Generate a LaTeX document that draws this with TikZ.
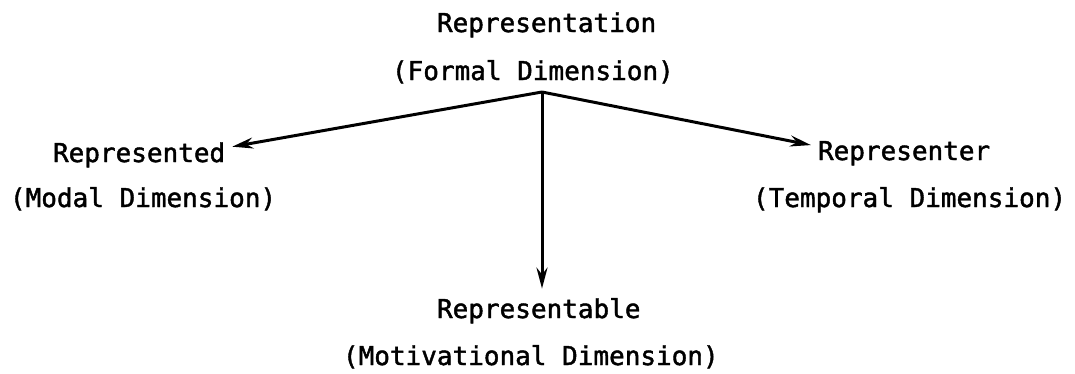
\documentclass[tikz,border=0pt]{standalone}
\usepackage{fontspec}
\setmonofont[FakeBold=1.6]{DejaVu Sans Mono}
\usepackage{tikz}
\usetikzlibrary{arrows.meta}

\begin{document}
\begin{tikzpicture}[
    x=0.02cm, y=-0.02cm,
    label/.style={anchor=base west, inner sep=0pt, outer sep=0.14cm, font=\ttfamily\fontsize{14.8}{18}\selectfont},
    arrow/.style={-{Stealth[length=0.42cm, width=0.22cm]}, line width=1.7pt}
]
    \useasboundingbox (0,0) rectangle (1075,373);

    % Formal dimension (top)
    \node[label] (representation) at (430,32) {Representation};
    \node[label] (formal) at (385,80) {(Formal Dimension)};
    \coordinate (apex) at (542,92);

    % Modal dimension (left)
    \node[label] (represented) at (46,162) {Represented};
    \node[label] (modal) at (3,207) {(Modal Dimension)};

    % Temporal dimension (right)
    \node[label] (representer) at (811,160) {Representer};
    \node[label] (temporal) at (746,207) {(Temporal Dimension)};

    % Motivational dimension (bottom)
    \node[label] (representable) at (430,318) {Representable};
    \node[label] (motivational) at (336,365) {(Motivational Dimension)};

    % Arrows
    \draw[arrow] (apex) -- (represented.5);
    \draw[arrow] (apex) -- (representer.175);
    \draw[arrow, shorten >=0.05cm] (apex) -- (apex |- representable.north);
\end{tikzpicture}
\end{document}
